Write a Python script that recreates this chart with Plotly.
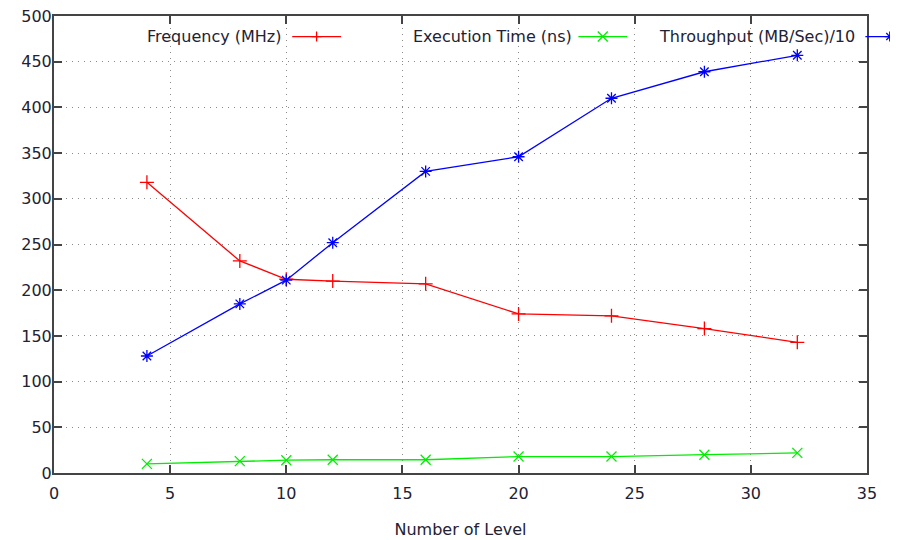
import plotly.graph_objects as go

levels = [4, 8, 10, 12, 16, 20, 24, 28, 32]
frequency = [318, 232, 212, 210, 207, 174, 172, 158, 143]
exec_time = [10, 13, 14, 14.5, 14.5, 18, 18, 20, 22]
throughput = [128, 185, 211, 252, 330, 346, 410, 439, 457]

series_names = ["Frequency (MHz)", "Execution Time (ns)", "Throughput (MB/Sec)/10"]
series_colors = ["#ff0000", "#00ee00", "#0000ff"]
series_symbols = ["cross-thin", "x-thin", "asterisk"]
series_values = [frequency, exec_time, throughput]

FONT = "DejaVu Sans"
TXT = "#222233"
fig = go.Figure()

for name, vals, col, sym in zip(series_names, series_values, series_colors, series_symbols):
    fig.add_trace(go.Scatter(
        x=levels, y=vals, mode="lines+markers", name=name,
        line=dict(color=col, width=1.3),
        marker=dict(symbol=sym, size=10, color=col, line=dict(color=col, width=1.3)),
        showlegend=False, cliponaxis=False,
    ))

# legend marker glyphs as pixel-size paths (so they can sit outside the plot frame)
r = 5
d = 3.5
glyph_paths = {
    "cross-thin": f"M{-r},0 L{r},0 M0,{-r} L0,{r}",
    "x-thin": f"M{-r},{-r} L{r},{r} M{-r},{r} L{r},{-r}",
    "asterisk": f"M{-r},0 L{r},0 M0,{-r} L0,{r} M{-d},{-d} L{d},{d} M{-d},{d} L{d},{-d}",
}

# gnuplot-style legend: text then sample line with marker
legend_text_right = [0.279, 0.637, 0.985]   # paper x where text ends
legend_line_start = [0.293, 0.645, 0.998]
sample_len = 0.060
leg_y = 0.955
for i, (name, col, sym) in enumerate(zip(series_names, series_colors, series_symbols)):
    fig.add_annotation(x=legend_text_right[i], y=leg_y, xref="paper", yref="paper", text=name,
                       showarrow=False, xanchor="right", yanchor="middle", xshift=2,
                       font=dict(family=FONT, size=16, color=TXT))
    x0 = legend_line_start[i]
    x1 = x0 + sample_len
    fig.add_shape(type="line", xref="paper", yref="paper", x0=x0, x1=x1,
                  y0=leg_y, y1=leg_y, line=dict(color=col, width=1.3))
    fig.add_shape(type="path", xref="paper", yref="paper",
                  xsizemode="pixel", ysizemode="pixel",
                  xanchor=(x0 + x1) / 2, yanchor=leg_y,
                  path=glyph_paths[sym], line=dict(color=col, width=1.3))

axis_common = dict(
    showline=True, mirror="allticks", linecolor="#444444", linewidth=2,
    ticks="inside", ticklen=8, tickcolor="#444444", tickwidth=1.5,
    showgrid=True, gridcolor="#8a8a8a", griddash="1px,5px", gridwidth=1,
    zeroline=False, tickfont=dict(family=FONT, size=16, color=TXT),
    ticklabeloverflow="allow", automargin=False,
)

fig.update_layout(
    width=898, height=540,
    margin=dict(l=46, r=39, t=8, b=75),
    plot_bgcolor="white", paper_bgcolor="white",
    xaxis=dict(range=[0, 35], dtick=5, tick0=0, ticklabelstandoff=5,
               title=dict(text="Number of Level", font=dict(family=FONT, size=16, color=TXT), standoff=22),
               **axis_common),
    yaxis=dict(range=[0, 500], dtick=50, tick0=0, ticklabelstandoff=-3, **axis_common),
)

fig.write_html("out.html")
